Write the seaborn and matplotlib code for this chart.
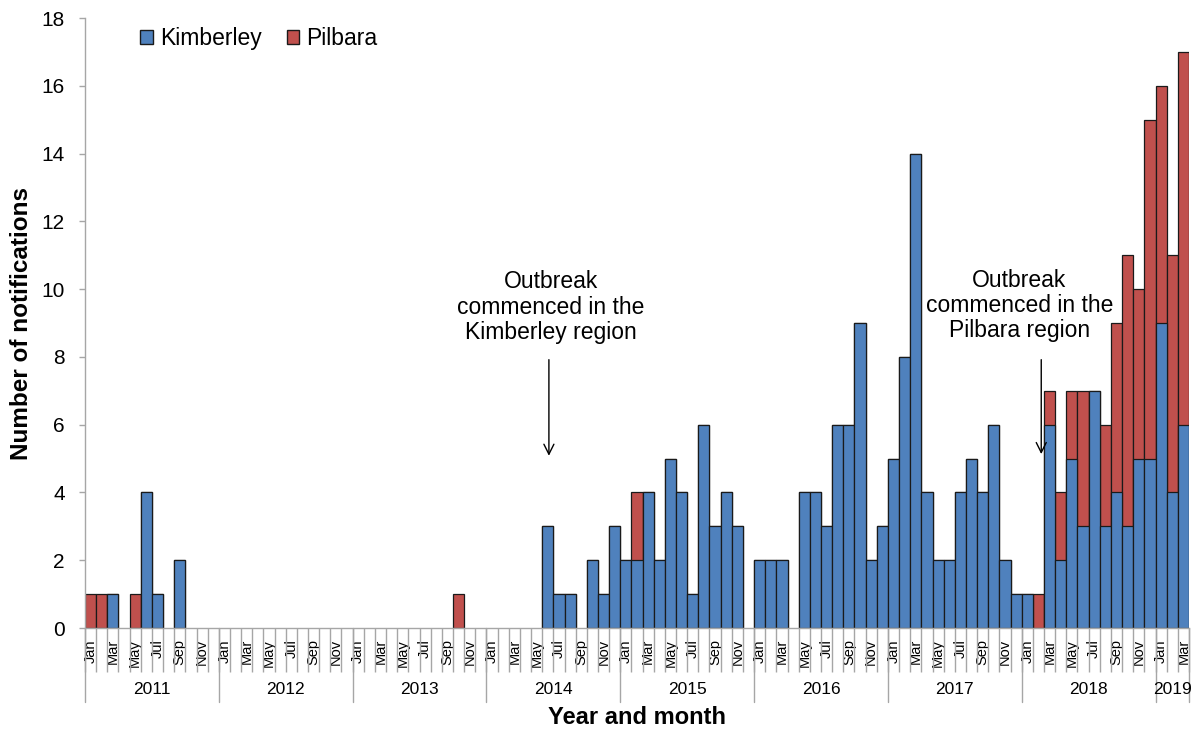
import numpy as np
import pandas as pd
import seaborn as sns
import matplotlib.pyplot as plt
from matplotlib.patches import Patch

years = [2011, 2012, 2013, 2014, 2015, 2016, 2017, 2018, 2019]
month_names = ["Jan", "Feb", "Mar", "Apr", "May", "Jun",
               "Jul", "Aug", "Sep", "Oct", "Nov", "Dec"]

# monthly notifications, Jan 2011 - Mar 2019
kimberley = [0, 0, 1, 0, 0, 4, 1, 0, 2, 0, 0, 0,
             0, 0, 0, 0, 0, 0, 0, 0, 0, 0, 0, 0,
             0, 0, 0, 0, 0, 0, 0, 0, 0, 0, 0, 0,
             0, 0, 0, 0, 0, 3, 1, 1, 0, 2, 1, 3,
             2, 2, 4, 2, 5, 4, 1, 6, 3, 4, 3, 0,
             2, 2, 2, 0, 4, 4, 3, 6, 6, 9, 2, 3,
             5, 8, 14, 4, 2, 2, 4, 5, 4, 6, 2, 1,
             1, 0, 6, 2, 5, 3, 7, 3, 4, 3, 5, 5,
             9, 4, 6]
pilbara = [1, 1, 0, 0, 1, 0, 0, 0, 0, 0, 0, 0,
           0, 0, 0, 0, 0, 0, 0, 0, 0, 0, 0, 0,
           0, 0, 0, 0, 0, 0, 0, 0, 0, 1, 0, 0,
           0, 0, 0, 0, 0, 0, 0, 0, 0, 0, 0, 0,
           0, 2, 0, 0, 0, 0, 0, 0, 0, 0, 0, 0,
           0, 0, 0, 0, 0, 0, 0, 0, 0, 0, 0, 0,
           0, 0, 0, 0, 0, 0, 0, 0, 0, 0, 0, 0,
           0, 1, 1, 2, 2, 4, 0, 3, 5, 8, 5, 10,
           7, 7, 11]

n = len(kimberley)
months = [f"{month_names[i % 12]} {years[0] + i // 12}" for i in range(n)]
df = pd.DataFrame({"month": months, "Kimberley": kimberley, "Pilbara": pilbara})
df["total"] = df["Kimberley"] + df["Pilbara"]

sns.set_style("white")
plt.rcParams['font.family'] = ['Liberation Sans', 'DejaVu Sans']
plt.rcParams['text.color'] = 'black'
plt.rcParams['xtick.labelcolor'] = 'black'
plt.rcParams['ytick.labelcolor'] = 'black'

blue = "#4F81BD"
red = "#C0504D"
edge = "#1a1a1a"
gray = "#a6a6a6"

fig = plt.figure(figsize=(11.92, 7.31), dpi=100)
ax = fig.add_axes([85 / 1192, 1 - 628 / 731, 1104 / 1192, 610 / 731])

sns.barplot(data=df, x="month", y="total", color=red, width=1, saturation=1,
            edgecolor=edge, linewidth=0.9, errorbar=None, ax=ax)
sns.barplot(data=df, x="month", y="Kimberley", color=blue, width=1, saturation=1,
            edgecolor=edge, linewidth=0.9, errorbar=None, ax=ax)
for p in ax.patches:
    if p.get_height() == 0:
        p.set_linewidth(0)

ax.set_xlim(-0.5, n - 0.5)
ax.set_ylim(0, 18)
ax.set_xlabel("")
ax.set_ylabel("")

for s in ["top", "right"]:
    ax.spines[s].set_visible(False)
for s in ["left", "bottom"]:
    ax.spines[s].set_color(gray)
    ax.spines[s].set_linewidth(1)

ax.set_yticks(range(0, 19, 2))
ax.tick_params(axis="y", labelsize=15, length=4.5, width=1, color=gray, pad=10,
               left=True, labelcolor="black")

ax.set_xticks(range(0, n, 2), [month_names[i % 12] for i in range(0, n, 2)])
ax.set_xticks(np.arange(-0.5, n, 1), minor=True)
ax.tick_params(axis="x", which="major", length=0, pad=8, labelsize=10.5,
               labelrotation=90, labelcolor="black")
ax.tick_params(axis="x", which="minor", length=32, width=1, color=gray, bottom=True)

# year separators and year labels
xt = ax.get_xaxis_transform()
bounds = [12 * k - 0.5 for k in range(len(years))] + [n - 0.5]
for b in bounds:
    ax.plot([b, b], [0, -74 / 610], transform=xt, color=gray, lw=1, clip_on=False)
for k, yr in enumerate(years):
    start = 12 * k - 0.5
    end = min(12 * k + 11.5, n - 0.5)
    ax.text((start + end) / 2, -62 / 610, str(yr), transform=xt,
            ha="center", va="center", fontsize=12.5)

ax.text(0.5, -90 / 610, "Year and month", transform=ax.transAxes,
        ha="center", va="center", fontsize=17, fontweight="bold")
ax.text(-63 / 1104, 0.5, "Number of notifications", transform=ax.transAxes,
        rotation=90, ha="center", va="center", fontsize=17.5, fontweight="bold")

# outbreak annotations
ax.text(41.3, 10.55, "Outbreak\ncommenced in the\nKimberley region",
        ha="center", va="top", fontsize=16.5, linespacing=1.12)
ax.annotate("", xy=(41.1, 5.0), xytext=(41.1, 8.0),
            arrowprops=dict(arrowstyle="->", lw=1, color="black", mutation_scale=18))
ax.text(83.3, 10.6, "Outbreak\ncommenced in the\nPilbara region",
        ha="center", va="top", fontsize=16.5, linespacing=1.12)
ax.annotate("", xy=(85.25, 5.05), xytext=(85.25, 8.0),
            arrowprops=dict(arrowstyle="->", lw=1, color="black", mutation_scale=18))

handles = [Patch(facecolor=blue, edgecolor=edge, label="Kimberley"),
           Patch(facecolor=red, edgecolor=edge, label="Pilbara")]
ax.legend(handles=handles, ncol=2, loc="upper left", bbox_to_anchor=(0.05, 0.985),
          frameon=False, fontsize=16.5, handlelength=0.55, handleheight=0.55,
          handletextpad=0.3, columnspacing=1.1, borderpad=0, borderaxespad=0)

fig.savefig("out.png", dpi=100)
